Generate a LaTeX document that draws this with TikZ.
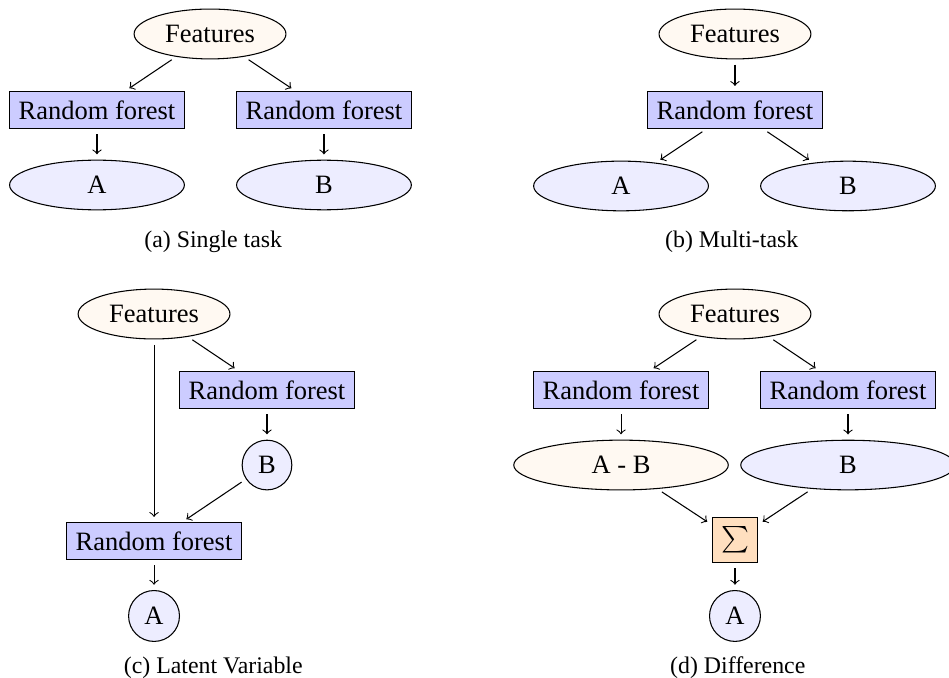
\documentclass[tikz,border=0pt]{standalone}
\usepackage{fontspec}
\setmainfont{Liberation Serif}
\usetikzlibrary{positioning, shapes.geometric}

\begin{document}
\begin{tikzpicture}[
  >=to,
  link/.style={->, shorten >=2pt, shorten <=2pt},
  feat/.style={ellipse, draw, fill=orange!5},
  forest/.style={rectangle, draw, fill=blue!20},
  % targets share one width so both ellipses look alike
  task/.style={ellipse, draw, fill=blue!7, minimum width=66pt},
  wide/.style={ellipse, draw, minimum width=81pt},
  latent/.style={circle, draw, fill=blue!7},
  sumbox/.style={rectangle, draw, fill=orange!25, minimum size=17pt},
  subcap/.style={font=\small}
]
\useasboundingbox (0,0) rectangle (12.593,-8.997);

% (a) single task
\node[feat] (f1) at (2.787,-0.451) {Features};
\node[forest] (r1a) at (1.287,-1.460) {Random forest};
\node[forest] (r1b) at (4.299,-1.460) {Random forest};
\node[task] (a1) at (1.287,-2.455) {A};
\node[task] (b1) at (4.299,-2.455) {B};
\draw[link] (f1) -- (r1a);
\draw[link] (f1) -- (r1b);
\draw[link] (r1a) -- (a1);
\draw[link] (r1b) -- (b1);
\node[subcap] (c1) at (2.83,-3.21) {(a) Single task};

% (b) multi-task
\node[feat] (f2) at (9.753,-0.451) {Features};
\node[forest] (r2) at (9.753,-1.460) {Random forest};
\node[task] (a2) at (8.241,-2.468) {A};
\node[task] (b2) at (11.253,-2.468) {B};
\draw[link] (f2) -- (r2);
\draw[link] (r2) -- (a2);
\draw[link] (r2) -- (b2);
\node[subcap] (c2) at (9.71,-3.21) {(b) Multi-task};

% (c) latent variable
\node[feat] (f3) at (2.044,-4.167) {Features};
\node[forest] (r3a) at (3.543,-5.175) {Random forest};
\node[latent] (b3) at (3.543,-6.171) {B};
\node[forest] (r3b) at (2.044,-7.179) {Random forest};
\node[latent] (a3) at (2.044,-8.174) {A};
\draw[link] (f3) -- (r3a);
\draw[link] (r3a) -- (b3);
\draw[link] (f3) -- (r3b);
\draw[link] (b3) -- (r3b);
\draw[link] (r3b) -- (a3);
\node[subcap] (c3) at (2.83,-8.86) {(c) Latent Variable};

% (d) difference
\node[feat] (f4) at (9.753,-4.167) {Features};
\node[forest] (r4a) at (8.241,-5.175) {Random forest};
\node[forest] (r4b) at (11.253,-5.175) {Random forest};
\node[wide, fill=orange!5] (d4) at (8.241,-6.171) {A - B};
\node[wide, fill=blue!7] (b4) at (11.253,-6.171) {B};
\node[sumbox] (s4) at (9.753,-7.166) {$\sum$};
\node[latent] (a4) at (9.753,-8.174) {A};
\draw[link] (f4) -- (r4a);
\draw[link] (f4) -- (r4b);
\draw[link] (r4a) -- (d4);
\draw[link] (r4b) -- (b4);
\draw[link] (d4) -- (s4);
\draw[link] (b4) -- (s4);
\draw[link] (s4) -- (a4);
\node[subcap] (c4) at (9.79,-8.86) {(d) Difference};

\end{tikzpicture}
\end{document}
